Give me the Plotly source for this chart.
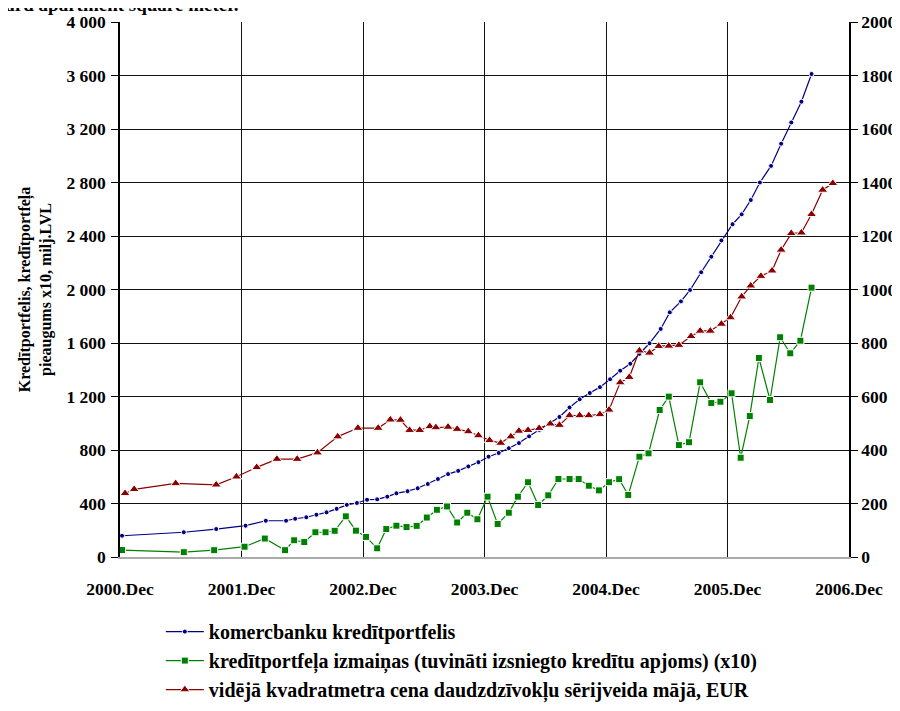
import plotly.graph_objects as go

# x = months since 2000.Dec
YEAR_TICKS  = [0, 12, 24, 36, 48, 60, 72]
YEAR_LABELS = ["2000.Dec", "2001.Dec", "2002.Dec", "2003.Dec",
               "2004.Dec", "2005.Dec", "2006.Dec"]

LEFT_TICKS  = list(range(0, 4001, 400))
LEFT_LABELS = ["0", "400", "800", "1 200", "1 600", "2 000", "2 400",
               "2 800", "3 200", "3 600", "4 000"]
RIGHT_TICKS = list(range(0, 2001, 200))

# komercbanku kreditportfelis (milj. LVL)
portf_x = [0.2, 6.3, 9.5, 12.4, 14.4, 16.4, 17.3, 18.4, 19.4, 20.4,
           21.4, 22.4, 23.4, 24.4, 25.4, 26.4, 27.3, 28.4, 29.4, 30.4,
           31.4, 32.4, 33.4, 34.4, 35.4, 36.4, 37.4, 38.4, 39.4, 40.4,
           41.4, 42.4, 43.4, 44.4, 45.4, 46.4, 47.4, 48.4, 49.4, 50.4,
           51.3, 52.3, 53.4, 54.3, 55.4, 56.3, 57.4, 58.4, 59.4, 60.5,
           61.4, 62.3, 63.2, 64.3, 65.3, 66.3, 67.3, 68.3]
portf_y = [159, 185, 209, 234, 271, 271, 286, 297, 316, 334,
           360, 390, 404, 428, 431, 451, 476, 492, 514, 546,
           583, 620, 644, 677, 709, 750, 778, 813, 852, 902,
           950, 999, 1047, 1118, 1179, 1226, 1270, 1329, 1393, 1445,
           1519, 1598, 1705, 1829, 1911, 1996, 2129, 2245, 2367, 2488,
           2562, 2669, 2800, 2924, 3090, 3249, 3404, 3611]

# kreditportfela izmainas (x10)
change_x = [0.2, 6.3, 9.3, 12.3, 14.3, 16.3, 17.2, 18.2, 19.3, 20.3,
            21.2, 22.3, 23.3, 24.3, 25.4, 26.3, 27.3, 28.3, 29.3, 30.3,
            31.3, 32.3, 33.3, 34.3, 35.3, 36.3, 37.3, 38.4, 39.3, 40.3,
            41.3, 42.3, 43.3, 44.4, 45.3, 46.3, 47.3, 48.3, 49.3, 50.2,
            51.3, 52.2, 53.3, 54.2, 55.2, 56.2, 57.3, 58.4, 59.3, 60.4,
            61.3, 62.2, 63.1, 64.2, 65.2, 66.2, 67.2, 68.3]
change_y = [52, 36, 51, 77, 138, 51, 125, 112, 185, 185,
            196, 304, 197, 150, 65, 209, 234, 224, 233, 295,
            353, 378, 258, 331, 282, 451, 247, 331, 451, 559,
            389, 461, 583, 583, 583, 533, 498, 559, 582, 464,
            750, 775, 1099, 1199, 837, 858, 1306, 1151, 1161, 1224,
            742, 1054, 1488, 1174, 1643, 1523, 1617, 2014]

# videja kvadratmetra cena (EUR, right axis)
price_x = [0.5, 1.4, 5.5, 9.5, 11.5, 13.5, 15.5, 17.5, 19.5, 21.5,
           23.5, 25.5, 26.7, 27.7, 28.6, 29.6, 30.6, 31.2, 32.4, 33.3,
           34.4, 35.4, 36.5, 37.6, 38.6, 39.4, 40.3, 41.4, 42.5, 43.4,
           44.4, 45.4, 46.3, 47.4, 48.3, 49.4, 50.3, 51.3, 52.3, 53.2,
           54.2, 55.2, 56.4, 57.3, 58.3, 59.4, 60.3, 61.4, 62.3, 63.3,
           64.4, 65.3, 66.3, 67.3, 68.3, 69.4, 70.4]
price_y = [238, 253, 275, 270, 300, 335, 366, 366, 390, 450,
           482, 482, 513, 512, 474, 474, 488, 484, 486, 478,
           469, 454, 436, 426, 450, 471, 474, 481, 498, 493,
           529, 529, 529, 533, 550, 652, 672, 771, 763, 788,
           789, 792, 825, 845, 845, 871, 895, 973, 1014, 1050,
           1070, 1148, 1210, 1212, 1281, 1372, 1397]

NAVY  = "#000080"
GREEN = "#008000"
RED   = "#8B0000"
FONT  = "Liberation Serif, Times New Roman, serif"

fig = go.Figure()

fig.add_trace(go.Scatter(
    x=portf_x, y=portf_y, mode="lines+markers",
    name="<b>komercbanku kredītportfelis</b>", legendgroup="a",
    line=dict(color=NAVY, width=1.2),
    marker=dict(symbol="circle", size=5, color=NAVY,
                line=dict(color="white", width=1)),
))
fig.add_trace(go.Scatter(
    x=change_x, y=change_y, mode="lines+markers",
    name="<b>kredītportfeļa izmaiņas (tuvināti izsniegto kredītu apjoms) (x10)</b>",
    legendgroup="b",
    line=dict(color=GREEN, width=1.2),
    marker=dict(symbol="square", size=7, color=GREEN,
                line=dict(color="white", width=1)),
))
fig.add_trace(go.Scatter(
    x=price_x, y=price_y, mode="lines+markers", yaxis="y2",
    name="<b>vidējā kvadratmetra cena daudzdzīvokļu sērijveida mājā, EUR</b>",
    legendgroup="c",
    line=dict(color=RED, width=1.2),
    marker=dict(symbol="triangle-up", size=9, color=RED,
                line=dict(color="white", width=1)),
))

# cut-off caption line from the source page (only its lower half shows)
fig.add_annotation(
    xref="paper", yref="paper", x=0.166, y=1.033,
    xanchor="right", yanchor="middle", showarrow=False,
    text="<b>standard apartment square meter.</b>",
    font=dict(family=FONT, size=19, color="black"),
)

tick_font = dict(family=FONT, size=17.5, color="black", weight="bold")

# the page body adds an 8px offset, so the figure is 8px smaller than the window
fig.update_layout(
    width=892, height=703,
    margin=dict(l=112, r=51, t=14, b=154, autoexpand=False),
    plot_bgcolor="white", paper_bgcolor="white",
    font=dict(family=FONT, size=16, color="black"),
    showlegend=True,
    legend=dict(x=0.056, y=-0.103, xanchor="left", yanchor="top",
                font=dict(family=FONT, size=20, color="black"),
                itemwidth=38, tracegroupgap=0,
                bgcolor="rgba(0,0,0,0)"),
    xaxis=dict(range=[0, 72], tickvals=YEAR_TICKS, ticktext=YEAR_LABELS,
               showgrid=True, gridcolor="#111111", gridwidth=1.3,
               showline=True, linecolor="#aaaaaa", linewidth=1.5,
               zeroline=False, ticks="", ticklabelstandoff=15,
               automargin=False, tickfont=tick_font),
    yaxis=dict(range=[0, 4000], tickvals=LEFT_TICKS, ticktext=LEFT_LABELS,
               showgrid=True, gridcolor="#111111", gridwidth=1.3,
               showline=True, linecolor="black", linewidth=1.5,
               zeroline=False, ticks="outside", ticklen=7,
               tickcolor="black", tickwidth=1.2, automargin=False,
               ticklabelstandoff=2, tickfont=tick_font,
               title=dict(text="<b>Kredītportfelis, kredītportfeļa<br>"
                               "pieaugums x10, milj.LVL</b>",
                          font=dict(family=FONT, size=16), standoff=11)),
    yaxis2=dict(range=[0, 2000], tickvals=RIGHT_TICKS, overlaying="y",
                side="right", showgrid=False, zeroline=False,
                showline=True, linecolor="black", linewidth=1.5,
                ticks="outside", ticklen=7, tickcolor="black",
                tickwidth=1.2, automargin=False, tickfont=tick_font),
)

fig.write_html("out.html")
